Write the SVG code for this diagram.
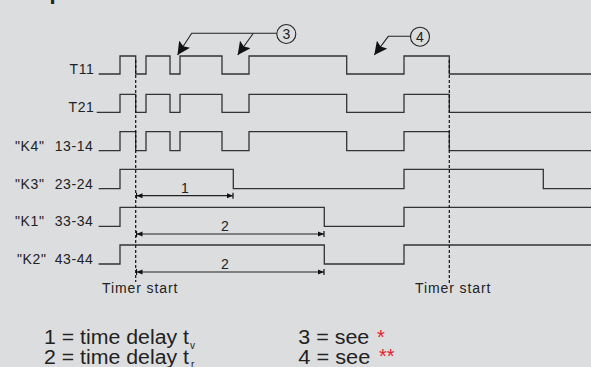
<svg xmlns="http://www.w3.org/2000/svg" width="591" height="367" viewBox="0 0 591 367">
<style>
.bg{fill:#dcdddf}
.wave{fill:none;stroke:#333;stroke-width:1.3}
.lbl{font-family:"Liberation Sans",Arial,sans-serif;font-size:14px;fill:#222;letter-spacing:0.6px}
.ts{font-family:"Liberation Sans",Arial,sans-serif;font-size:14px;fill:#222;letter-spacing:0.9px}
.dim{fill:none;stroke:#222;stroke-width:1.2}
.dash{fill:none;stroke:#111;stroke-width:1.2;stroke-dasharray:3,2}
.call{fill:none;stroke:#222;stroke-width:1.1}
.num{font-family:"Liberation Sans",Arial,sans-serif;font-size:14px;fill:#222;text-anchor:middle}
.leg{font-family:"Liberation Sans",Arial,sans-serif;font-size:20px;fill:#222}
.sub{font-family:"Liberation Sans",Arial,sans-serif;font-size:10px;fill:#222}
.red{font-family:"Liberation Sans",Arial,sans-serif;font-size:20px;fill:#e8202a}
</style>
<defs>
<marker id="big" viewBox="0 0 13 13" markerWidth="13" markerHeight="13" refX="13" refY="6.5" orient="auto" markerUnits="userSpaceOnUse">
<path d="M0,0 L13,6.5 L0,13 L2.5,6.5 z" fill="#111"/>
</marker>
<marker id="tick" viewBox="0 0 7 7" markerWidth="7" markerHeight="7" refX="6" refY="3.5" orient="auto-start-reverse" markerUnits="userSpaceOnUse">
<path d="M0,1 L6,3.5 L0,6 z" fill="#111"/>
<path d="M6,0.5 V6.5" stroke="#111" stroke-width="1.2"/>
</marker>
</defs>
<rect class="bg" x="0" y="0" width="591" height="367"/>
<text x="49.5" y="-1.5" font-family="Liberation Sans,Arial,sans-serif" font-weight="bold" font-size="22" fill="#222">p</text>

<g id="T11">
<text class="lbl" x="94.5" y="74" text-anchor="end">T11</text>
<path class="wave" d="M98.7,74 H120 V56 H135.7 V74 H146 V56 H170 V74 H180 V56 H222 V74 H249 V56 H346.7 V74 H404 V56 H449.3 V74 H591"/>
</g>
<g id="T21">
<text class="lbl" x="94.5" y="112.3" text-anchor="end">T21</text>
<path class="wave" d="M96.7,112.3 H120 V94.3 H135.7 V112.3 H146 V94.3 H170 V112.3 H180 V94.3 H222 V112.3 H249 V94.3 H346.7 V112.3 H404 V94.3 H449.3 V112.3 H591"/>
</g>
<g id="K4">
<text class="lbl" x="15" y="151">"K4"</text>
<text class="lbl" x="93.5" y="151" text-anchor="end">13-14</text>
<path class="wave" d="M98.7,150.7 H120 V131.7 H135.7 V150.7 H146 V131.7 H170 V150.7 H180 V131.7 H222 V150.7 H249 V131.7 H346.7 V150.7 H404 V131.7 H449.3 V150.7 H591"/>
</g>
<g id="K3">
<text class="lbl" x="15" y="188.7">"K3"</text>
<text class="lbl" x="93.5" y="188.7" text-anchor="end">23-24</text>
<path class="wave" d="M98.7,188.7 H120 V169.3 H233.3 V188.7 H404 V169.3 H543.3 V188.7 H591"/>
</g>
<g id="K1">
<text class="lbl" x="15" y="226.3">"K1"</text>
<text class="lbl" x="93.5" y="226.3" text-anchor="end">33-34</text>
<path class="wave" d="M98.7,226.3 H120 V207.3 H324.3 V226.3 H404 V207.3 H591"/>
</g>
<g id="K2">
<text class="lbl" x="17" y="264">"K2"</text>
<text class="lbl" x="93.5" y="264" text-anchor="end">43-44</text>
<path class="wave" d="M98.7,264 H120 V245 H324.3 V264 H404 V245 H591"/>
</g>

<g id="timer1">
<text class="ts" x="102" y="292.7">Timer start</text>
</g>
<g id="timer2">
<text class="ts" x="415" y="292.7">Timer start</text>
</g>

<g id="callout3">
<circle cx="286.3" cy="34" r="9.5" fill="none" stroke="#222" stroke-width="1.1"/>
<text class="num" x="286.3" y="39">3</text>
</g>
<g id="callout4">
<circle cx="420" cy="36.7" r="9.5" fill="none" stroke="#222" stroke-width="1.1"/>
<text class="num" x="420" y="41.7">4</text>
</g>

<g id="connectors">
<line class="dash" x1="135.7" y1="60" x2="135.7" y2="282"/>
<line class="dash" x1="449.3" y1="60" x2="449.3" y2="283"/>
<path class="call" d="M276.8,33.3 H191.7 L177.5,55" marker-end="url(#big)"/>
<path class="call" d="M253.3,33.3 L237.7,55" marker-end="url(#big)"/>
<path class="call" d="M410.5,36.3 H388.3 L374.3,55" marker-end="url(#big)"/>
<line class="dim" x1="136.5" y1="195.7" x2="233" y2="195.7" marker-start="url(#tick)" marker-end="url(#tick)"/>
<line class="dim" x1="136.5" y1="234" x2="324" y2="234" marker-start="url(#tick)" marker-end="url(#tick)"/>
<line class="dim" x1="136.5" y1="272" x2="324" y2="272" marker-start="url(#tick)" marker-end="url(#tick)"/>
<text class="num" x="185" y="193">1</text>
<text class="num" x="225" y="230.7">2</text>
<text class="num" x="225" y="268.5">2</text>
</g>

<g id="legend">
<text class="leg" x="44" y="344" textLength="145" lengthAdjust="spacingAndGlyphs">1 = time delay t</text>
<text class="sub" x="190" y="348.5">v</text>
<text class="leg" x="44" y="363.5" textLength="145" lengthAdjust="spacingAndGlyphs">2 = time delay t</text>
<text class="sub" x="191" y="368">r</text>
<text class="leg" x="298.3" y="344" textLength="71" lengthAdjust="spacingAndGlyphs">3 = see</text>
<text class="red" x="377" y="343.5">*</text>
<text class="leg" x="298.3" y="363.5" textLength="72" lengthAdjust="spacingAndGlyphs">4 = see</text>
<text class="red" x="379" y="362.5">**</text>
</g>
</svg>
